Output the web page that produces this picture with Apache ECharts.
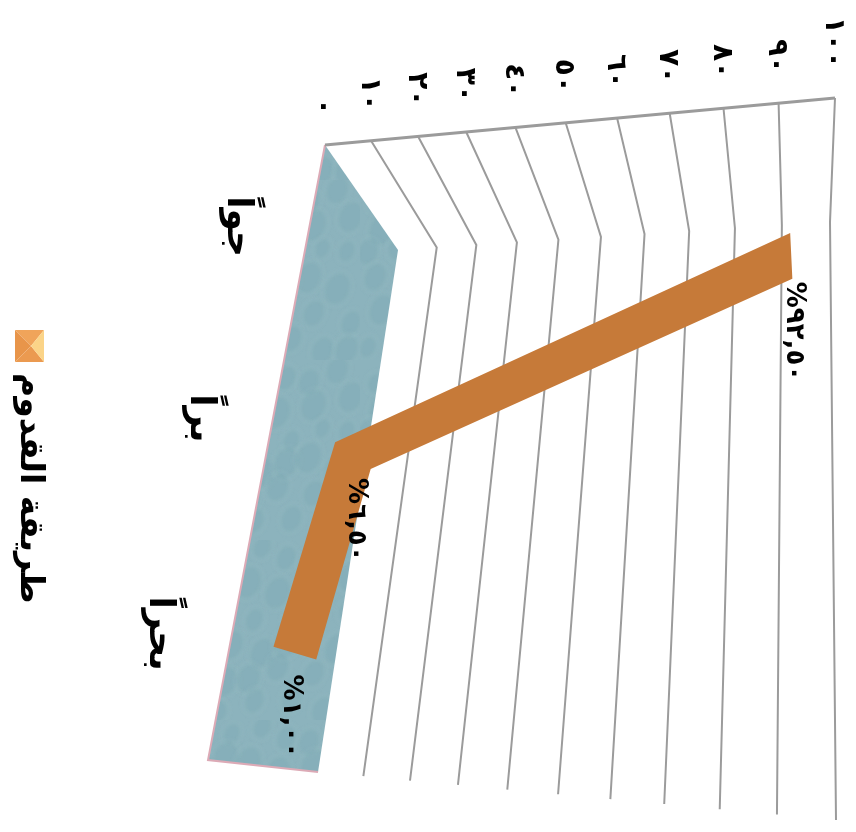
<!DOCTYPE html>
<html lang="ar">

<head>
    <meta charset="UTF-8">
    <title>طريقة القدوم</title>
    <script src="https://cdn.jsdelivr.net/npm/echarts@6/dist/echarts.min.js"></script>
    <style>
        html, body { margin: 0; background: #fff; }
        #chart { width: 856px; height: 832px; }
    </style>
</head>

<body>
    <div id="chart"></div>
    <script>
        // chart data
        var categories = ['جواً', 'براً', 'بحراً'];
        var seriesName = 'طريقة القدوم';
        var seriesValues = [92.5, 6.5, 1.0];
        var valueLabels = ['%٩٢,٥٠', '%٦,٥٠', '%١,٠٠'];
        var tickValues = [0, 10, 20, 30, 40, 50, 60, 70, 80, 90, 100];
        var tickLabels = ['٠', '١٠', '٢٠', '٣٠', '٤٠', '٥٠', '٦٠', '٧٠', '٨٠', '٩٠', '١٠٠'];

        var W = 856, H = 832;
        var FONT = '"DejaVu Sans"';
        var gridColor = '#9b9b9b';

        // the chart is a tilted 3D box: front and back planes as four corners each
        var frontQuad = [[325, 145], [835, 98], [812, 792], [208, 760]];
        var backQuad = [[398, 250], [830, 222], [836, 820], [318, 772]];
        var catShift = 0.009; // category bands sit a bit above the box centre
        var ribbonDepth = [0.36, 0.78];
        var labelNudge = [[1, 3], [-15, 9], [-25, 15]]; // value label offset from ribbon corner

        function homography(q) {
            var x0 = q[0][0], y0 = q[0][1], x1 = q[1][0], y1 = q[1][1];
            var x2 = q[2][0], y2 = q[2][1], x3 = q[3][0], y3 = q[3][1];
            var dx1 = x1 - x2, dx2 = x3 - x2, sx = x0 - x1 + x2 - x3;
            var dy1 = y1 - y2, dy2 = y3 - y2, sy = y0 - y1 + y2 - y3;
            var den = dx1 * dy2 - dx2 * dy1;
            var g = (sx * dy2 - dx2 * sy) / den, h = (dx1 * sy - sx * dy1) / den;
            var a = x1 - x0 + g * x1, b = x3 - x0 + h * x3;
            var d = y1 - y0 + g * y1, e = y3 - y0 + h * y3;
            return function (u, w) {
                var n = g * u + h * w + 1;
                return [(a * u + b * w + x0) / n, (d * u + e * w + y0) / n];
            };
        }
        var frontMap = homography(frontQuad);
        var backMap = homography(backQuad);

        function project(u, w, depth) {
            var f = frontMap(u, w), b = backMap(u, w);
            return [f[0] + (b[0] - f[0]) * depth, f[1] + (b[1] - f[1]) * depth];
        }
        // value axis and category axis give the flat position, then it goes into the box
        function place(api, value, catIndex, depth) {
            var p = api.coord([value, categories[catIndex]]);
            return project(p[0] / W, p[1] / H - catShift, depth);
        }
        function valueU(api, value) {
            return api.coord([value, categories[0]])[0] / W;
        }

        function rotatedText(pos, text, size, align) {
            return {
                type: 'text',
                x: pos[0],
                y: pos[1],
                rotation: -Math.PI / 2,
                style: {
                    text: text,
                    x: 0,
                    y: 0,
                    align: align,
                    verticalAlign: 'middle',
                    font: 'bold ' + size + 'px ' + FONT,
                    fill: '#000'
                }
            };
        }

        // droplet texture for the floor
        function floorTexture() {
            var c = document.createElement('canvas');
            c.width = c.height = 180;
            var ctx = c.getContext('2d');
            ctx.fillStyle = '#8cb3bd';
            ctx.fillRect(0, 0, 180, 180);
            ctx.filter = 'blur(2px)';
            for (var i = 0; i < 6; i++) {
                for (var j = 0; j < 6; j++) {
                    var x = i * 30 + 15 + 8 * Math.sin(j * 2.1 + i);
                    var y = j * 30 + 15 + 8 * Math.cos(i * 1.7 + j);
                    var r = 9 + 5 * Math.abs(Math.sin(i * 3 + j * 5));
                    ctx.beginPath();
                    ctx.ellipse(x, y, r, r * 1.3, 0.4, 0, Math.PI * 2);
                    ctx.fillStyle = 'rgba(112,158,170,0.18)';
                    ctx.fill();
                    ctx.strokeStyle = 'rgba(190,218,224,0.28)';
                    ctx.lineWidth = 1.5;
                    ctx.stroke();
                }
            }
            return c;
        }
        var texture = floorTexture();

        var myChart = echarts.init(document.getElementById('chart'));
        var option = {
            animation: false,
            backgroundColor: '#fff',
            grid: { left: 0, right: 0, top: 0, bottom: 0 },
            xAxis: { type: 'value', min: 0, max: 100, interval: 10, show: false },
            yAxis: { type: 'category', data: categories, inverse: true, show: false },
            series: [
                { // floor
                    type: 'custom',
                    coordinateSystem: 'cartesian2d',
                    clip: false,
                    silent: true,
                    data: [[0, categories[0]]],
                    renderItem: function (params, api) {
                        var u0 = valueU(api, 0);
                        var a = project(u0, 0, 0), b = project(u0, 0, 1);
                        var c = project(u0, 1, 1), d = project(u0, 1, 0);
                        return {
                            type: 'group',
                            children: [{
                                type: 'polygon',
                                shape: { points: [a, b, c, d] },
                                style: { fill: { image: texture, repeat: 'repeat' } }
                            }, {
                                type: 'polyline',
                                shape: { points: [a, d, c] },
                                style: { fill: 'none', stroke: '#dcaab6', lineWidth: 2 }
                            }]
                        };
                    }
                },
                { // gridlines and tick labels
                    type: 'custom',
                    coordinateSystem: 'cartesian2d',
                    clip: false,
                    silent: true,
                    data: tickValues.map(function (v) { return [v, categories[0]]; }),
                    renderItem: function (params, api) {
                        var v = tickValues[params.dataIndex];
                        var u = valueU(api, v);
                        var top = project(u, 0, 0);
                        var children = [rotatedText([top[0] - 2, top[1] - 30], tickLabels[params.dataIndex], 28, 'right')];
                        if (v > 0) {
                            children.push({
                                type: 'polyline',
                                shape: { points: [top, project(u, 0, 1), project(u, 1, 1)] },
                                style: { fill: 'none', stroke: gridColor, lineWidth: 2 }
                            });
                        }
                        return { type: 'group', children: children };
                    }
                },
                { // top edge of the side wall
                    type: 'custom',
                    coordinateSystem: 'cartesian2d',
                    clip: false,
                    silent: true,
                    data: [[0, categories[0]]],
                    renderItem: function (params, api) {
                        var a = project(valueU(api, 0), 0, 0), b = project(valueU(api, 100), 0, 0);
                        return {
                            type: 'line',
                            shape: { x1: a[0], y1: a[1], x2: b[0], y2: b[1] },
                            style: { stroke: gridColor, lineWidth: 3 }
                        };
                    }
                },
                { // the ribbon
                    name: seriesName,
                    type: 'custom',
                    coordinateSystem: 'cartesian2d',
                    clip: false,
                    data: [[seriesValues[0], categories[0]]],
                    renderItem: function (params, api) {
                        var near = seriesValues.map(function (v, i) { return place(api, v, i, ribbonDepth[0]); });
                        var far = seriesValues.map(function (v, i) { return place(api, v, i, ribbonDepth[1]); });
                        return {
                            type: 'polygon',
                            shape: { points: near.concat(far.reverse()) },
                            style: { fill: '#c67a39' }
                        };
                    }
                },
                { // category and value labels
                    type: 'custom',
                    coordinateSystem: 'cartesian2d',
                    clip: false,
                    silent: true,
                    data: categories.map(function (c, i) { return [seriesValues[i], c]; }),
                    renderItem: function (params, api) {
                        var i = params.dataIndex;
                        var edge = place(api, 0, i, 0);
                        var far = place(api, seriesValues[i], i, ribbonDepth[1]);
                        return {
                            type: 'group',
                            children: [
                                rotatedText([edge[0] - 72, edge[1] - 2], categories[i], 36, 'center'),
                                rotatedText([far[0] + labelNudge[i][0], far[1] + labelNudge[i][1]], valueLabels[i], 26, 'left')
                            ]
                        };
                    }
                }
            ],
            graphic: [
                { // legend swatch
                    type: 'group',
                    x: 15,
                    y: 330,
                    children: [
                        { type: 'polygon', shape: { points: [[0, 0], [29, 0], [16, 16]] }, style: { fill: '#f0a45a' } },
                        { type: 'polygon', shape: { points: [[0, 0], [0, 32], [16, 16]] }, style: { fill: '#e8954a' } },
                        { type: 'polygon', shape: { points: [[0, 32], [29, 32], [16, 16]] }, style: { fill: '#eb9a50' } },
                        { type: 'polygon', shape: { points: [[29, 0], [29, 32], [16, 16]] }, style: { fill: '#fbd488' } }
                    ]
                },
                {
                    type: 'text',
                    x: 30,
                    y: 373,
                    rotation: -Math.PI / 2,
                    style: {
                        text: seriesName,
                        x: 0,
                        y: 0,
                        align: 'left',
                        verticalAlign: 'middle',
                        font: 'bold 33px ' + FONT,
                        fill: '#000'
                    }
                }
            ]
        };
        myChart.setOption(option);
    </script>
</body>

</html>
